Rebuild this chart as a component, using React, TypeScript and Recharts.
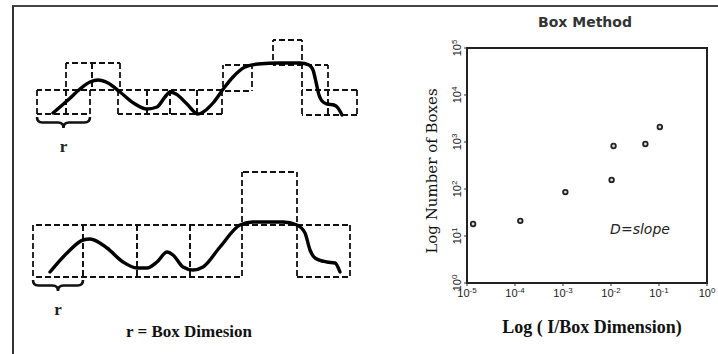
import React from "react";
import { ComposedChart, Line, XAxis, YAxis, ReferenceArea, ScatterChart, Scatter } from "recharts";

// left diagram, in diagram units (x to the right, y downwards)
const topCurve = [
  { x: 53, y: 113 }, { x: 68, y: 100 }, { x: 80, y: 89 }, { x: 90, y: 82 }, { x: 98, y: 80 },
  { x: 108, y: 83 }, { x: 120, y: 92 }, { x: 135, y: 104 }, { x: 147, y: 109 }, { x: 157, y: 107 },
  { x: 165, y: 97 }, { x: 170, y: 92 }, { x: 176, y: 94 }, { x: 187, y: 104 }, { x: 198, y: 114 },
  { x: 206, y: 110 }, { x: 213, y: 103 }, { x: 224, y: 88 }, { x: 233, y: 77 }, { x: 245, y: 67 },
  { x: 258, y: 64 }, { x: 280, y: 63 }, { x: 300, y: 63 }, { x: 309, y: 65 }, { x: 313, y: 70 },
  { x: 316, y: 82 }, { x: 319, y: 95 }, { x: 322, y: 101 }, { x: 327, y: 104 }, { x: 334, y: 105 },
  { x: 338, y: 108 }, { x: 342, y: 115 },
];

const bottomCurve = [
  { x: 50, y: 272 }, { x: 67, y: 253 }, { x: 83, y: 240 }, { x: 90, y: 239 }, { x: 107, y: 248 },
  { x: 123, y: 262 }, { x: 137, y: 268 }, { x: 147, y: 268 }, { x: 157, y: 262 }, { x: 167, y: 252 },
  { x: 173, y: 255 }, { x: 183, y: 267 }, { x: 193, y: 270 }, { x: 203, y: 267 }, { x: 220, y: 247 },
  { x: 240, y: 225 }, { x: 253, y: 222 }, { x: 283, y: 222 }, { x: 297, y: 225 }, { x: 305, y: 233 },
  { x: 310, y: 250 }, { x: 315, y: 258 }, { x: 327, y: 262 }, { x: 335, y: 263 }, { x: 340, y: 272 },
];

// boxes as [x1, y1, x2, y2]
const topBoxes = [
  [37, 90, 66, 114], [66, 90, 90, 114], [66, 63, 92, 90], [92, 63, 120, 90],
  [118, 90, 147, 114], [147, 90, 170, 114], [170, 90, 197, 114], [197, 90, 222, 114],
  [223, 65, 252, 91], [273, 40, 302, 65], [302, 65, 328, 90], [302, 90, 328, 115],
  [328, 90, 357, 115],
];

const bottomBoxes = [
  [33, 225, 83, 277], [83, 225, 137, 277], [137, 225, 190, 277], [190, 225, 242, 277],
  [242, 172, 297, 225], [297, 225, 350, 277],
];

const braces = [
  { x1: 37, x2: 90, y1: 117, y2: 128, label: "r" },
  { x1: 33, x2: 83, y1: 280, y2: 291, label: "r" },
];

// box counting chart
const invBoxSize = [1.34e-5, 1.29e-4, 1.12e-3, 1.03e-2, 1.13e-2, 5.2e-2, 0.104];
const boxCounts = [18, 21, 86, 156, 822, 906, 2085];
const xTicks = [1e-5, 1e-4, 1e-3, 1e-2, 1e-1, 1];
const xTickExp = ["-5", "-4", "-3", "-2", "-1", "0"];
const yTicks = [1, 10, 100, 1000, 10000, 100000];
const yTickExp = ["0", "1", "2", "3", "4", "5"];

const points = invBoxSize.map((x, i) => ({ x, y: boxCounts[i] }));

const tickFont = "'Liberation Sans', Arial, sans-serif";
const DASH = 9; // 6 on, 3 off

// dashed box, every edge drawn in the same direction with a globally aligned dash phase
function DashBox(props: any) {
  const { x, y, width: w, height: h } = props;
  const common = { stroke: "#111", strokeWidth: 1.8, strokeDasharray: "6 3" };
  return (
    <g>
      <line x1={x} y1={y} x2={x + w} y2={y} strokeDashoffset={x % DASH} {...common} />
      <line x1={x} y1={y + h} x2={x + w} y2={y + h} strokeDashoffset={x % DASH} {...common} />
      <line x1={x} y1={y} x2={x} y2={y + h} strokeDashoffset={y % DASH} {...common} />
      <line x1={x + w} y1={y} x2={x + w} y2={y + h} strokeDashoffset={y % DASH} {...common} />
    </g>
  );
}

function Brace(props: any) {
  const { x, y, width: w, height: h, label } = props;
  const ym = y + h / 2;
  const xm = x + w / 2;
  const c = h / 2;
  const d = `M${x},${y} Q${x},${ym} ${x + c},${ym} L${xm - c},${ym} Q${xm},${ym} ${xm},${y + h} Q${xm},${ym} ${xm + c},${ym} L${x + w - c},${ym} Q${x + w},${ym} ${x + w},${y}`;
  return (
    <g>
      <path d={d} fill="none" stroke="#111" strokeWidth={2.6} />
      <text x={xm} y={y + h + 24} textAnchor="middle" fontFamily="'Liberation Serif', serif" fontWeight="bold" fontSize={17} fill="#222">
        {label}
      </text>
    </g>
  );
}

function XTick(props: any) {
  const { x, y, payload } = props;
  const i = xTicks.indexOf(payload.value);
  return (
    <text x={x} y={y + 9} textAnchor="middle" fontFamily={tickFont} fontSize={11} fill="#222">
      10<tspan dy={-4} fontSize={8}>{xTickExp[i]}</tspan>
    </text>
  );
}

function YTick(props: any) {
  const { x, y, payload } = props;
  const i = yTicks.indexOf(payload.value);
  return (
    <g transform={`translate(${x},${y}) rotate(-90)`}>
      <text x={0} y={0} textAnchor="middle" fontFamily={tickFont} fontSize={11} fill="#222">
        10<tspan dy={-4} fontSize={8}>{yTickExp[i]}</tspan>
      </text>
    </g>
  );
}

function Diagram() {
  return (
    <ComposedChart width={360} height={354} margin={{ top: 0, right: 0, bottom: 0, left: 0 }}>
      <XAxis type="number" dataKey="x" domain={[0, 360]} hide />
      <YAxis type="number" domain={[0, 354]} reversed hide />
      {[...topBoxes, ...bottomBoxes].map(([x1, y1, x2, y2], i) => (
        <ReferenceArea key={i} x1={x1} x2={x2} y1={y1} y2={y2} ifOverflow="visible" shape={(p: any) => <DashBox {...p} />} />
      ))}
      {braces.map((b, i) => (
        <ReferenceArea
          key={"b" + i}
          x1={b.x1}
          x2={b.x2}
          y1={b.y1}
          y2={b.y2}
          ifOverflow="visible"
          shape={(p: any) => <Brace {...p} label={b.label} />}
        />
      ))}
      <Line data={topCurve} dataKey="y" type="monotone" dot={false} activeDot={false} stroke="#000" strokeWidth={3.4} strokeLinecap="round" isAnimationActive={false} />
      <Line data={bottomCurve} dataKey="y" type="monotone" dot={false} activeDot={false} stroke="#000" strokeWidth={3.4} strokeLinecap="round" isAnimationActive={false} />
    </ComposedChart>
  );
}

function BoxMethod() {
  return (
    <ScatterChart width={358} height={354} margin={{ top: 48, right: 11, bottom: 46, left: 77 }}>
      <XAxis
        type="number"
        dataKey="x"
        scale="log"
        domain={[1e-5, 1]}
        ticks={xTicks}
        interval={0}
        tick={<XTick />}
        axisLine={false}
        tickLine={{ stroke: "#333" }}
        tickSize={3}
        tickMargin={2}
        height={25}
        allowDataOverflow
      />
      <YAxis
        type="number"
        dataKey="y"
        scale="log"
        domain={[1, 100000]}
        ticks={yTicks}
        interval={0}
        tick={<YTick />}
        axisLine={false}
        tickLine={{ stroke: "#333" }}
        tickSize={3}
        tickMargin={3}
        width={30}
        allowDataOverflow
      />
      <ReferenceArea
        x1={1e-5}
        x2={1}
        y1={1}
        y2={100000}
        fill="none"
        fillOpacity={0}
        stroke="#222"
        strokeWidth={2}
        ifOverflow="visible"
      />
      <Scatter
        data={points}
        isAnimationActive={false}
        shape={(p: any) => <circle cx={p.cx} cy={p.cy} r={2.3} fill="#ddd" stroke="#222" strokeWidth={1.8} />}
      />
    </ScatterChart>
  );
}

export default function App() {
  return (
    <div style={{ position: "absolute", left: 0, top: 0, width: 718, height: 354, background: "#fff", overflow: "hidden" }}>
      <div style={{ position: "absolute", left: 12, top: 5, width: 706, height: 347, borderLeft: "2px solid #333", borderTop: "2px solid #444", borderBottom: "1px solid #ccc" }} />
      <div style={{ position: "absolute", left: 0, top: 0 }}>
        <Diagram />
      </div>
      <div style={{ position: "absolute", left: 360, top: 0 }}>
        <BoxMethod />
      </div>
      <div style={{ position: "absolute", left: 189, top: 332, transform: "translate(-50%,-50%)", whiteSpace: "nowrap", fontFamily: "'Liberation Serif', serif", fontWeight: "bold", fontSize: 17, color: "#111" }}>
        r = Box Dimesion
      </div>
      <div style={{ position: "absolute", left: 585, top: 22, transform: "translate(-50%,-50%)", whiteSpace: "nowrap", fontFamily: "'DejaVu Sans', sans-serif", fontWeight: "bold", fontSize: 14, color: "#333" }}>
        Box Method
      </div>
      <div style={{ position: "absolute", left: 432, top: 171, transform: "translate(-50%,-50%) rotate(-90deg)", whiteSpace: "nowrap", fontFamily: "'DejaVu Serif', serif", fontSize: 15, color: "#111" }}>
        Log Number of Boxes
      </div>
      <div style={{ position: "absolute", left: 592, top: 327, transform: "translate(-50%,-50%)", whiteSpace: "nowrap", fontFamily: "'Liberation Serif', serif", fontWeight: "bold", fontSize: 18, color: "#111" }}>
        Log ( I/Box Dimension)
      </div>
      <div style={{ position: "absolute", left: 640, top: 229, transform: "translate(-50%,-50%)", whiteSpace: "nowrap", fontFamily: "'DejaVu Sans', sans-serif", fontStyle: "italic", fontSize: 14, color: "#222" }}>
        D=slope
      </div>
    </div>
  );
}
